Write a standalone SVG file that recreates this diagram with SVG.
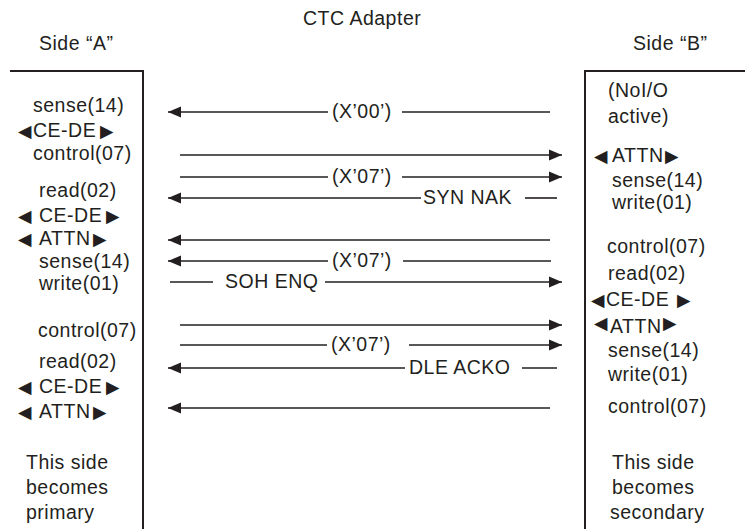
<svg xmlns="http://www.w3.org/2000/svg" width="745" height="529" viewBox="0 0 745 529">
<style>
text{font-family:"Liberation Sans",Arial,sans-serif;font-size:19.5px;letter-spacing:0.5px;fill:#231f20}
.tri{font-family:"DejaVu Sans",sans-serif;font-size:17.5px;letter-spacing:0}
.box{fill:none;stroke:#231f20;stroke-width:2}
.ln{fill:none;stroke:#231f20;stroke-width:1.6}
</style>
<defs>
<marker id="ah" markerUnits="userSpaceOnUse" markerWidth="14" markerHeight="12" viewBox="0 0 14 12" refX="13" refY="6" orient="auto">
<path d="M0,0.5 L13,6 L0,11.5 Z" fill="#231f20"/>
</marker>
</defs>
<rect width="745" height="529" fill="#fff"/>
<g id="title">
<text x="303" y="25">CTC Adapter</text>
<text x="39" y="50">Side “A”</text>
<text x="633" y="50">Side “B”</text>
</g>
<g id="side-a">
<path class="box" d="M10,71 H143 V529"/>
<text x="33" y="112">sense(14)</text>
<text y="137"><tspan class="tri" x="18">◀</tspan><tspan x="33">CE-DE</tspan><tspan class="tri" x="100">▶</tspan></text>
<text x="33" y="160">control(07)</text>
<text x="39" y="197">read(02)</text>
<text y="222"><tspan class="tri" x="18">◀</tspan><tspan x="39">CE-DE</tspan><tspan class="tri" x="106">▶</tspan></text>
<text y="245"><tspan class="tri" x="18">◀</tspan><tspan x="39">ATTN</tspan><tspan class="tri" x="93">▶</tspan></text>
<text x="39" y="268">sense(14)</text>
<text x="39" y="290">write(01)</text>
<text x="38" y="337">control(07)</text>
<text x="39" y="368">read(02)</text>
<text y="393"><tspan class="tri" x="18">◀</tspan><tspan x="39">CE-DE</tspan><tspan class="tri" x="106">▶</tspan></text>
<text y="418"><tspan class="tri" x="18">◀</tspan><tspan x="39">ATTN</tspan><tspan class="tri" x="93">▶</tspan></text>
<text x="26" y="469">This side</text>
<text x="26" y="494">becomes</text>
<text x="26" y="519">primary</text>
</g>
<g id="side-b">
<path class="box" d="M745,71 H585 V529"/>
<text x="608" y="97">(NoI/O</text>
<text x="608" y="123">active)</text>
<text y="162"><tspan class="tri" x="594">◀</tspan><tspan x="612">ATTN</tspan><tspan class="tri" x="665">▶</tspan></text>
<text x="612" y="187">sense(14)</text>
<text x="612" y="209">write(01)</text>
<text x="607" y="253">control(07)</text>
<text x="608" y="280">read(02)</text>
<text y="306"><tspan class="tri" x="591">◀</tspan><tspan x="606">CE-DE</tspan><tspan class="tri" x="677">▶</tspan></text>
<text y="333"><tspan class="tri" x="594" dy="-4">◀</tspan><tspan x="610" dy="4">ATTN</tspan><tspan class="tri" x="663" dy="-4">▶</tspan></text>
<text x="608" y="357">sense(14)</text>
<text x="608" y="381">write(01)</text>
<text x="608" y="413">control(07)</text>
<text x="612" y="469">This side</text>
<text x="612" y="494">becomes</text>
<text x="610" y="519">secondary</text>
</g>
<g id="connectors">
<path class="ln" d="M328,112 H168" marker-end="url(#ah)"/>
<path class="ln" d="M402,112 H550"/>
<text x="332" y="118">(X’00’)</text>
<path class="ln" d="M180,155 H562" marker-end="url(#ah)"/>
<path class="ln" d="M180,177 H328"/>
<path class="ln" d="M402,177 H562" marker-end="url(#ah)"/>
<text x="332" y="183">(X’07’)</text>
<path class="ln" d="M421,198 H168" marker-end="url(#ah)"/>
<path class="ln" d="M525,198 H557"/>
<text x="423" y="204">SYN NAK</text>
<path class="ln" d="M550,240 H168" marker-end="url(#ah)"/>
<path class="ln" d="M328,261 H168" marker-end="url(#ah)"/>
<path class="ln" d="M403,261 H551"/>
<text x="332" y="267">(X’07’)</text>
<path class="ln" d="M170,282 H213"/>
<path class="ln" d="M325,282 H562" marker-end="url(#ah)"/>
<text x="225" y="288">SOH ENQ</text>
<path class="ln" d="M180,325 H562" marker-end="url(#ah)"/>
<path class="ln" d="M180,345 H327"/>
<path class="ln" d="M409,345 H562" marker-end="url(#ah)"/>
<text x="331" y="351">(X’07’)</text>
<path class="ln" d="M405,368 H168" marker-end="url(#ah)"/>
<path class="ln" d="M522,368 H557"/>
<text x="409" y="374">DLE ACKO</text>
<path class="ln" d="M550,408 H168" marker-end="url(#ah)"/>
</g>
</svg>
